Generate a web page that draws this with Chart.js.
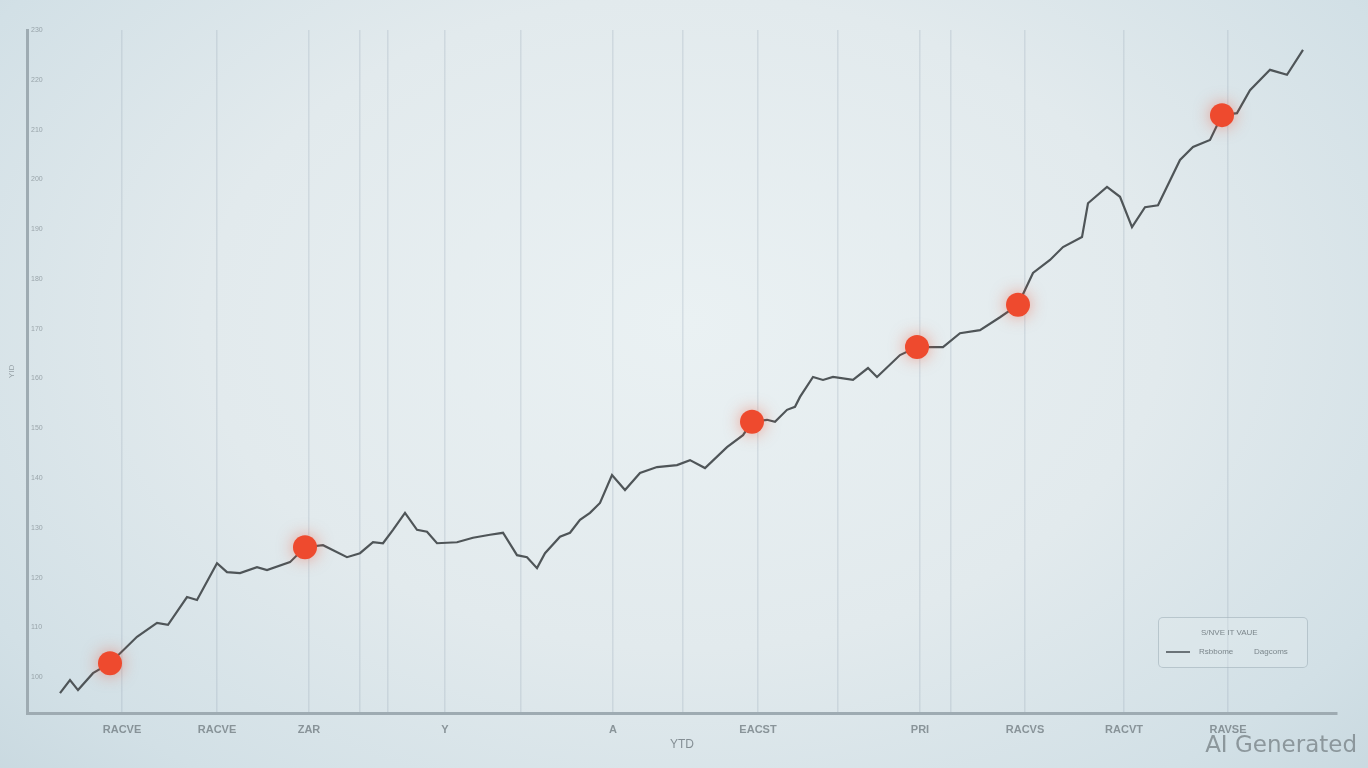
<!DOCTYPE html>
<html>
<head>
<meta charset="utf-8">
<script src="https://cdn.jsdelivr.net/npm/chart.js@4.4.1/dist/chart.umd.min.js"></script>
<style>
html,body{margin:0;padding:0;width:1368px;height:768px;overflow:hidden;}
body{
  background:
    radial-gradient(ellipse 70% 85% at 50% 42%, #eaf1f3 0%, #e2eaed 50%, #d2e0e6 85%, #c9d9e0 100%);
  font-family:'Liberation Sans', Arial, sans-serif;
}
#wrap{position:absolute;left:0;top:0;width:1368px;height:768px;}
canvas{position:absolute;left:0;top:0;filter:blur(0.5px);}
#legend{position:absolute;left:1158px;top:617px;width:148px;height:49px;border:1px solid rgba(140,158,168,0.45);border-radius:5px;background:rgba(226,235,239,0.35);font:8px 'Liberation Sans',Arial,sans-serif;color:#7b868b;filter:blur(0.6px);}
#legend .t{position:absolute;white-space:nowrap;}
#legend .ln{position:absolute;left:7px;top:33px;width:24px;height:2px;background:#6b7378;}
#wm{position:absolute;right:11px;top:731px;font:23px 'DejaVu Sans',sans-serif;color:#8c979c;}
</style>
</head>
<body>
<div id="wrap">
  <canvas id="c" width="1368" height="768"></canvas>
  <div id="legend">
    <div class="t" style="left:42px;top:10px;">S/NVE IT VAUE</div>
    <div class="ln"></div>
    <div class="t" style="left:40px;top:29px;">Rsbbome</div>
    <div class="t" style="left:95px;top:29px;">Dagcoms</div>
  </div>
  <div id="wm">AI Generated</div>
</div>
<script>
// ---- data ----
const days = [6.6, 8.6, 10.2, 13.2, 16.6, 22, 26, 28.2, 32, 34, 38, 40, 42.6, 46, 48, 52.6, 55.6, 59.2, 64, 66.6,
  69.2, 71.2, 73.2, 75.6, 78, 80, 82, 86, 89.2, 92.6, 95.2, 98, 100, 102, 103.6, 106.6, 108.6, 110.6, 112.6, 114.6,
  117, 119.6, 122.6, 126, 130, 132.6, 135.6, 140, 143.2, 145, 148, 149.6, 152, 153.6, 154.6, 157.2, 159.2, 161.2, 165.2, 168.2,
  170, 174.6, 178, 183.2, 186.6, 190.6, 194.6, 198.2, 201.2, 204.6, 207.2, 211, 212.2, 216, 218.6, 221, 223.6, 226.2, 230.6, 233.2,
  236.6, 239, 242, 244.6, 248.6, 252, 255.2];
const prices = [96.8, 99.4, 97.4, 100.8, 102.8, 108.1, 110.9, 110.5, 116.1, 115.5, 122.9, 121.1, 120.9, 122.1, 121.5, 123.1, 126.1, 126.5, 124.1, 124.9,
  127.1, 126.9, 129.6, 133.0, 129.6, 129.2, 126.9, 127.1, 128.0, 128.6, 129.0, 124.5, 124.1, 121.9, 124.9, 128.2, 129.0, 131.6, 133.0, 135.0,
  140.6, 137.6, 141.0, 142.2, 142.6, 143.6, 142.0, 146.2, 148.6, 151.3, 151.7, 151.3, 153.7, 154.3, 156.3, 160.3, 159.7, 160.3, 159.7, 162.1,
  160.3, 164.7, 166.3, 166.3, 169.1, 169.7, 172.3, 174.8, 181.2, 183.8, 186.4, 188.4, 195.2, 198.5, 196.5, 190.4, 194.4, 194.8, 203.9, 206.5,
  207.9, 212.9, 213.3, 217.9, 222.0, 221.0, 226.0];
const markerDays = [16.6, 55.6, 145, 178, 198.2, 239];
const markerPrices = [102.8, 126.1, 151.3, 166.3, 174.8, 212.9];
const gridDays = [19, 38, 56.4, 66.6, 72.2, 83.6, 98.8, 117.2, 131.2, 146.2, 162.2, 178.6, 184.8, 199.6, 219.4, 240.2];
const gridLabels = ['RACVE', 'RACVE', 'ZAR', '', '', 'Y', '', 'A', '', 'EACST', '', 'PRI', '', 'RACVS', 'RACVT', 'RAVSE'];
const yTicks = [100, 110, 120, 130, 140, 150, 160, 170, 180, 190, 200, 210, 220, 230];
const xTitle = 'YTD';
const yTitle = 'YID';

const glow = {
  id: 'glow',
  beforeDatasetDraw(chart, args) {
    if (args.index === 0) {
      chart.ctx.save();
      chart.ctx.shadowColor = 'rgba(240,80,50,0.5)';
      chart.ctx.shadowBlur = 16;
    }
  },
  afterDatasetDraw(chart, args) {
    if (args.index === 0) chart.ctx.restore();
  }
};

new Chart(document.getElementById('c'), {
  type: 'line',
  data: {
    datasets: [
      {
        label: 'Markers',
        data: markerDays.map((d, i) => ({x: d, y: markerPrices[i]})),
        showLine: false,
        pointRadius: 12,
        pointHoverRadius: 12,
        pointBackgroundColor: '#ee4a2e',
        pointBorderWidth: 0,
        order: 0
      },
      {
        label: 'Price',
        data: days.map((d, i) => ({x: d, y: prices[i]})),
        borderColor: '#4f5558',
        borderWidth: 2.2,
        pointRadius: 0,
        tension: 0,
        fill: false,
        order: 1
      }
    ]
  },
  plugins: [glow],
  options: {
    responsive: false,
    animation: false,
    devicePixelRatio: 1,
    layout: {padding: {top: 30, right: 31, left: 0, bottom: 0}},
    plugins: {legend: {display: false}, tooltip: {enabled: false}},
    scales: {
      x: {
        type: 'linear',
        min: 0,
        max: 262,
        afterBuildTicks: s => { s.ticks = gridDays.map(v => ({value: v})); },
        afterFit: s => { s.height = 55; },
        grid: {color: 'rgba(150,168,180,0.26)', lineWidth: 1.5, drawTicks: false},
        border: {display: true, color: '#9eabb2', width: 3},
        ticks: {
          autoSkip: false, maxRotation: 0, padding: 10,
          color: 'rgba(110,120,126,0.75)',
          font: {family: 'Liberation Sans', size: 11, weight: 'bold'},
          callback: (v, i) => gridLabels[i]
        },
        title: {display: true, text: xTitle, color: 'rgba(110,120,126,0.8)',
          font: {family: 'Liberation Sans', size: 12}, padding: {top: 0, bottom: 16}}
      },
      y: {
        type: 'linear',
        min: 92.8,
        max: 230,
        afterBuildTicks: s => { s.ticks = yTicks.map(v => ({value: v})); },
        afterFit: s => { s.width = 27; },
        grid: {display: false},
        border: {display: true, color: '#9eabb2', width: 3},
        ticks: {
          mirror: true, padding: 4,
          color: 'rgba(120,130,136,0.65)',
          font: {family: 'Liberation Sans', size: 7}
        },
        title: {display: true, text: yTitle, color: 'rgba(120,130,136,0.7)',
          font: {family: 'Liberation Sans', size: 8}, padding: {top: 7, bottom: 0}}
      }
    }
  }
});
</script>
</body>
</html>
